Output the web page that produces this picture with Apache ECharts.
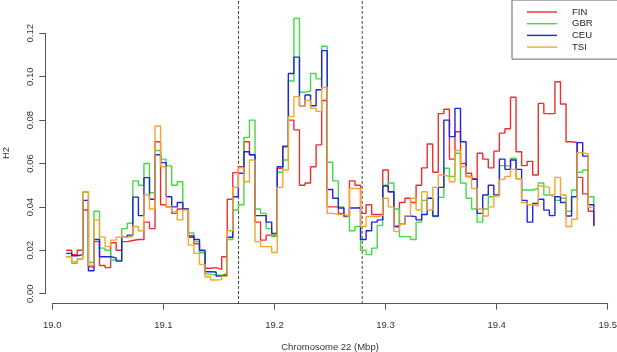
<!DOCTYPE html>
<html>
<head>
<meta charset="utf-8">
<script src="https://cdn.jsdelivr.net/npm/echarts@6/dist/echarts.min.js"></script>
<style>
  html, body { margin: 0; padding: 0; background: #fff; }
  #chart { width: 617px; height: 352px; }
</style>
</head>
<body>
<div id="chart"></div>
<script>
// window start (Mbp) of each 5 kb step
const binStart = 19.0125;
const binWidth = 0.005;

const FIN = [0.020,0.018,0.020,0.0386,0.0124,0.024,0.013,0.012,0.0235,0.020,
  0.024,0.0245,0.025,0.025,0.033,0.030,0.070,0.041,0.040,0.037,
  0.039,0.039,0.026,0.023,0.019,0.0117,0.012,0.0112,0.017,0.0435,
  0.0558,0.0585,0.070,0.064,0.033,0.0247,0.027,0.027,0.0578,0.0677,
  0.080,0.0755,0.050,0.051,0.0585,0.0686,0.089,0.040,0.040,0.037,
  0.0355,0.052,0.050,0.037,0.041,0.0365,0.0365,0.057,0.047,0.031,
  0.042,0.044,0.042,0.050,0.058,0.069,0.056,0.083,0.085,0.062,
  0.0746,0.060,0.0555,0.053,0.0647,0.062,0.058,0.0657,0.074,0.076,
  0.0905,0.0654,0.059,0.061,0.0547,0.0877,0.083,0.083,0.0977,0.0874,
  0.070,0.0697,0.0536,0.046,0.038,0.031];

const GBR = [0.017,0.014,0.016,0.0467,0.0144,0.038,0.021,0.020,0.0155,0.0152,
  0.030,0.0325,0.052,0.050,0.060,0.0465,0.066,0.062,0.0589,0.050,
  0.0516,0.039,0.028,0.024,0.019,0.009,0.0085,0.0085,0.0094,0.025,
  0.0386,0.041,0.072,0.080,0.039,0.037,0.030,0.0263,0.056,0.0616,
  0.098,0.1269,0.0928,0.0934,0.1015,0.099,0.114,0.0606,0.052,0.040,
  0.036,0.029,0.031,0.020,0.018,0.021,0.0315,0.050,0.051,0.039,
  0.0263,0.0263,0.025,0.033,0.043,0.044,0.0355,0.0444,0.0578,0.054,
  0.0647,0.051,0.044,0.039,0.033,0.039,0.0447,0.0455,0.059,0.0588,
  0.0624,0.053,0.0478,0.0478,0.0485,0.051,0.0455,0.0447,0.043,0.044,
  0.038,0.0478,0.056,0.057,0.0447,0.040];

const CEU = [0.0186,0.0175,0.018,0.043,0.0106,0.025,0.017,0.017,0.0165,0.015,
  0.026,0.027,0.0445,0.036,0.0535,0.0435,0.064,0.0604,0.0447,0.040,
  0.042,0.039,0.0266,0.025,0.020,0.0101,0.010,0.0081,0.0086,0.026,
  0.0447,0.0555,0.0654,0.064,0.036,0.036,0.033,0.0278,0.0585,0.068,
  0.1015,0.109,0.0866,0.0916,0.0866,0.094,0.112,0.048,0.044,0.0395,
  0.036,0.0395,0.0396,0.025,0.029,0.033,0.034,0.0496,0.047,0.031,
  0.032,0.0358,0.0355,0.034,0.0365,0.044,0.0358,0.049,0.080,0.0724,
  0.0854,0.070,0.054,0.0527,0.037,0.0455,0.050,0.0455,0.062,0.0573,
  0.0616,0.0573,0.043,0.033,0.0416,0.0435,0.0385,0.036,0.0447,0.042,
  0.0358,0.0447,0.0696,0.0634,0.041,0.0316];

const TSI = [0.017,0.0147,0.016,0.047,0.013,0.034,0.0262,0.0218,0.0247,0.026,
  0.026,0.0265,0.031,0.029,0.0455,0.039,0.0773,0.0585,0.040,0.0378,
  0.034,0.0386,0.0224,0.0186,0.0135,0.0078,0.0063,0.0065,0.008,0.029,
  0.049,0.058,0.0516,0.0616,0.024,0.0217,0.0217,0.019,0.049,0.057,
  0.0816,0.0908,0.0866,0.089,0.0854,0.084,0.095,0.037,0.0365,0.0365,
  0.0357,0.0485,0.0485,0.031,0.0355,0.0355,0.036,0.044,0.040,0.0286,
  0.032,0.036,0.044,0.0386,0.047,0.0386,0.049,0.0547,0.054,0.0516,
  0.066,0.0585,0.054,0.0485,0.039,0.0358,0.040,0.045,0.0527,0.054,
  0.0573,0.053,0.042,0.041,0.0404,0.0496,0.049,0.0455,0.0536,0.0455,
  0.031,0.0343,0.065,0.0644,0.0398,0.040];

const populations = ["FIN", "GBR", "CEU", "TSI"];
const popValues = [FIN, GBR, CEU, TSI];
const popColors = ["#e8302f", "#44da44", "#2424dc", "#f5a530"];

// dashed region boundaries (Mbp) and their vertical extent
const boundaries = [19.1676, 19.279];
const boundaryRange = [-0.0047, 0.135];

const xTicks = [19.0, 19.5, 0.1];
const yTicks = [0, 0.12, 0.02];

const positions = FIN.map((_, i) => +(binStart + i * binWidth).toFixed(4));

const chart = echarts.init(document.getElementById("chart"), null, { renderer: "canvas" });

const font = "Liberation Sans, Arial, Helvetica, sans-serif";

const series = populations.map((name, k) => ({
  name: name,
  type: "line",
  step: "end",
  symbol: "none",
  clip: false,
  silent: true,
  lineStyle: { color: popColors[k], width: 1.4 },
  itemStyle: { color: popColors[k] },
  data: popValues[k].map((v, i) => [positions[i], v]),
  z: 3 + k
}));

boundaries.forEach((b) => {
  series.push({
    type: "line",
    symbol: "none",
    clip: false,
    silent: true,
    lineStyle: { color: "#444", width: 1, type: [3, 2] },
    data: boundaryRange.map((y) => [b, y]),
    z: 2
  });
});

const option = {
  animation: false,
  backgroundColor: "#fff",
  textStyle: { fontFamily: font },
  grid: {
    left: 52.3, right: 9.3, top: 33.3, bottom: 58.3,
    containLabel: false,
    outerBoundsMode: "none"
  },
  xAxis: {
    type: "value",
    min: xTicks[0],
    max: xTicks[1],
    interval: xTicks[2],
    offset: 10,
    axisLine: { show: true, onZero: false, lineStyle: { color: "#555", width: 1 } },
    axisTick: { show: true, length: 6, lineStyle: { color: "#555", width: 1 } },
    splitLine: { show: false },
    axisLabel: {
      margin: 17,
      fontSize: 9.5,
      color: "#333",
      fontFamily: font,
      formatter: (v) => v.toFixed(1)
    },
    name: "Chromosome 22 (Mbp)",
    nameLocation: "middle",
    nameGap: 39,
    nameTextStyle: { fontSize: 9.5, color: "#333", fontFamily: font }
  },
  yAxis: {
    type: "value",
    min: yTicks[0],
    max: yTicks[1],
    interval: yTicks[2],
    offset: 7,
    axisLine: { show: true, onZero: false, lineStyle: { color: "#555", width: 1 } },
    axisTick: { show: true, length: 6, lineStyle: { color: "#555", width: 1 } },
    splitLine: { show: false },
    axisLabel: {
      rotate: 90,
      margin: 10,
      fontSize: 9.5,
      color: "#333",
      fontFamily: font,
      formatter: (v) => v.toFixed(2)
    }
  },
  legend: {
    data: populations,
    orient: "vertical",
    left: 512,
    top: 0,
    padding: [7, 26, 7, 15],
    itemWidth: 30,
    itemHeight: 10,
    itemGap: 1.7,
    icon: "path://M0,4.3H30V5.7H0Z",
    borderColor: "#666",
    borderWidth: 1,
    selectedMode: false,
    textStyle: { fontSize: 9.5, color: "#222", lineHeight: 10, padding: [0, 0, 0, 10], fontFamily: font }
  },
  graphic: [{
    type: "text",
    x: 6,
    y: 153,
    rotation: Math.PI / 2,
    style: {
      text: "H2",
      fontSize: 9.5,
      fontFamily: font,
      fill: "#333",
      align: "center",
      verticalAlign: "middle"
    }
  }],
  series: series
};

chart.setOption(option);
</script>
</body>
</html>
